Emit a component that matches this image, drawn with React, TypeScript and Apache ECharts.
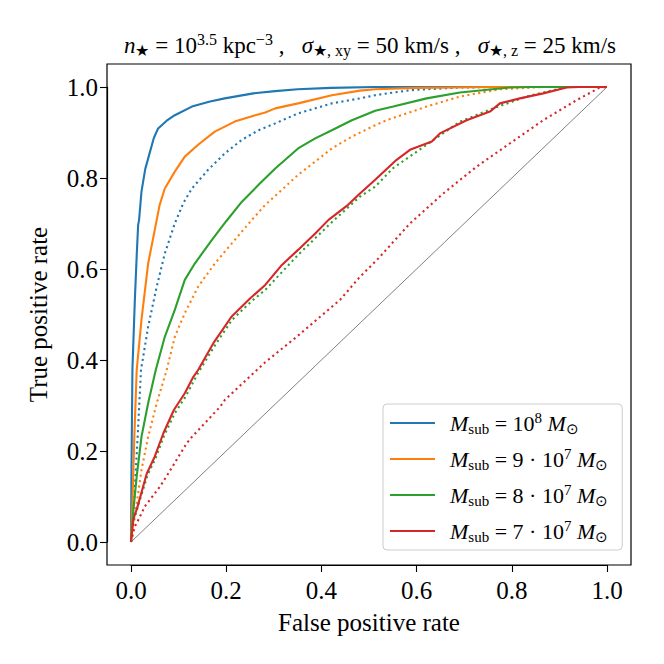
import React, { useEffect, useRef } from "react";
import * as echarts from "echarts";

// ROC curves: [false positive rate, true positive rate]
const roc1e8Solid: [number, number][] = [
  [0, 0], [0.001, 0.16], [0.003, 0.38], [0.008, 0.53], [0.012, 0.63], [0.015, 0.697], [0.017, 0.708],
  [0.022, 0.77], [0.03, 0.82], [0.04, 0.858], [0.048, 0.888], [0.057, 0.909], [0.075, 0.926],
  [0.092, 0.938], [0.128, 0.957], [0.166, 0.968], [0.197, 0.975], [0.257, 0.986], [0.303, 0.991],
  [0.35, 0.995], [0.42, 0.998], [0.513, 1.0], [0.7, 1.0], [1, 1],
];
const roc1e8Dotted: [number, number][] = [
  [0, 0], [0.007, 0.1], [0.014, 0.231], [0.021, 0.378], [0.036, 0.473], [0.054, 0.561], [0.071, 0.634],
  [0.092, 0.7], [0.11, 0.745], [0.128, 0.777], [0.162, 0.818], [0.197, 0.854], [0.233, 0.884],
  [0.268, 0.905], [0.303, 0.92], [0.351, 0.942], [0.422, 0.964], [0.481, 0.975], [0.513, 0.982],
  [0.586, 0.993], [0.691, 0.999], [0.8, 1.0], [1, 1],
];
const roc9e7Solid: [number, number][] = [
  [0, 0], [0.003, 0.086], [0.007, 0.231], [0.012, 0.378], [0.022, 0.488], [0.036, 0.612], [0.052, 0.697],
  [0.06, 0.74], [0.071, 0.777], [0.092, 0.814], [0.113, 0.847], [0.141, 0.873], [0.176, 0.902],
  [0.218, 0.924], [0.261, 0.938], [0.282, 0.944], [0.303, 0.953], [0.351, 0.964], [0.422, 0.982],
  [0.481, 0.992], [0.513, 0.995], [0.6, 0.998], [0.76, 1.0], [1, 1],
];
const roc9e7Dotted: [number, number][] = [
  [0, 0], [0.012, 0.085], [0.022, 0.158], [0.036, 0.231], [0.054, 0.305], [0.075, 0.378], [0.092, 0.451],
  [0.113, 0.503], [0.141, 0.561], [0.176, 0.612], [0.218, 0.664], [0.254, 0.708], [0.282, 0.741],
  [0.317, 0.774], [0.351, 0.807], [0.387, 0.836], [0.422, 0.865], [0.464, 0.891], [0.513, 0.916],
  [0.537, 0.927], [0.621, 0.957], [0.691, 0.979], [0.775, 0.995], [0.866, 1.0], [1, 1],
];
const roc8e7Solid: [number, number][] = [
  [0, 0], [0.005, 0.07], [0.012, 0.144], [0.022, 0.231], [0.036, 0.305], [0.052, 0.378], [0.071, 0.451],
  [0.092, 0.51], [0.113, 0.576], [0.134, 0.612], [0.17, 0.664], [0.2, 0.705], [0.233, 0.748],
  [0.268, 0.785], [0.303, 0.821], [0.351, 0.865], [0.387, 0.887], [0.422, 0.905], [0.464, 0.927],
  [0.513, 0.948], [0.551, 0.957], [0.621, 0.975], [0.691, 0.988], [0.796, 0.999], [0.84, 1.0], [1, 1],
];
const roc8e7Dotted: [number, number][] = [
  [0, 0], [0.005, 0.045], [0.015, 0.08], [0.035, 0.148], [0.05, 0.18], [0.07, 0.235], [0.092, 0.283],
  [0.115, 0.32], [0.14, 0.37], [0.175, 0.43], [0.212, 0.488], [0.254, 0.53], [0.282, 0.554],
  [0.351, 0.631], [0.422, 0.703], [0.481, 0.759], [0.513, 0.781], [0.551, 0.822], [0.621, 0.873],
  [0.691, 0.924], [0.761, 0.953], [0.831, 0.979], [0.915, 1.0], [1, 1],
];
const roc7e7Solid: [number, number][] = [
  [0, 0], [0.005, 0.05], [0.013, 0.075], [0.033, 0.15], [0.05, 0.188], [0.068, 0.239], [0.09, 0.29],
  [0.113, 0.327], [0.131, 0.363], [0.141, 0.378], [0.173, 0.437], [0.211, 0.495], [0.25, 0.535],
  [0.282, 0.565], [0.317, 0.609], [0.351, 0.642], [0.387, 0.678], [0.415, 0.708], [0.456, 0.741],
  [0.481, 0.766], [0.513, 0.796], [0.558, 0.84], [0.586, 0.862], [0.632, 0.88], [0.649, 0.898],
  [0.705, 0.927], [0.754, 0.946], [0.775, 0.964], [0.817, 0.975], [0.866, 0.986], [0.915, 0.999],
  [0.94, 1.0], [1, 1],
];
const roc7e7Dotted: [number, number][] = [
  [0, 0], [0.008, 0.034], [0.012, 0.041], [0.029, 0.078], [0.061, 0.122], [0.075, 0.145], [0.117, 0.217],
  [0.128, 0.231], [0.187, 0.297], [0.197, 0.312], [0.257, 0.371], [0.282, 0.395], [0.348, 0.451],
  [0.422, 0.517], [0.439, 0.532], [0.481, 0.583], [0.513, 0.616], [0.523, 0.627], [0.586, 0.7],
  [0.656, 0.766], [0.726, 0.825], [0.796, 0.876], [0.866, 0.927], [0.936, 0.971], [0.985, 0.999], [1, 1],
];
const chanceLine: [number, number][] = [[0, 0], [1, 1]];

const massNames = ["M_sub = 10^8 M_sun", "M_sub = 9·10^7 M_sun", "M_sub = 8·10^7 M_sun", "M_sub = 7·10^7 M_sun"];
const massLabels = [
  "{it|M}{sub|sub}{n| = 10}{sup|8}{it| M}{sub|⊙}",
  "{it|M}{sub|sub}{n| = 9 · 10}{sup|7}{it| M}{sub|⊙}",
  "{it|M}{sub|sub}{n| = 8 · 10}{sup|7}{it| M}{sub|⊙}",
  "{it|M}{sub|sub}{n| = 7 · 10}{sup|7}{it| M}{sub|⊙}",
];
const colors = ["#1f77b4", "#ff7f0e", "#2ca02c", "#d62728"];
const titleText =
  "{it|n}{sub|★}{n| = 10}{sup|3.5}{n| kpc}{sup|−3}{n| ,   }{it|σ}{sub|★, xy}{n| = 50 km/s ,   }{it|σ}{sub|★, z}{n| = 25 km/s}";

const FONT = "Liberation Serif";

export default function App() {
  const ref = useRef<HTMLDivElement>(null);
  useEffect(() => {
    if (!ref.current) return;
    const chart = echarts.init(ref.current, undefined, { renderer: "svg" });
    const solids = [roc1e8Solid, roc9e7Solid, roc8e7Solid, roc7e7Solid];
    const dotteds = [roc1e8Dotted, roc9e7Dotted, roc8e7Dotted, roc7e7Dotted];
    const series: any[] = [
      {
        type: "line",
        name: "chance",
        data: chanceLine,
        symbol: "none",
        clip: false,
        lineStyle: { color: "#808080", width: 1 },
        silent: true,
      },
    ];
    for (let i = 0; i < 4; i++) {
      series.push({
        type: "line",
        name: massNames[i],
        data: solids[i],
        symbol: "none",
        clip: false,
        color: colors[i],
        lineStyle: { color: colors[i], width: 2.1 },
      });
      series.push({
        type: "line",
        name: massNames[i] + " (dotted)",
        data: dotteds[i],
        symbol: "none",
        clip: false,
        color: colors[i],
        lineStyle: { color: colors[i], width: 2.1, type: [2.1, 3.4], cap: "butt" },
      });
    }
    const richLegend = {
      n: { fontFamily: FONT, fontSize: 22, lineHeight: 26, color: "#000" },
      it: { fontFamily: FONT, fontSize: 22, fontStyle: "italic", lineHeight: 26, color: "#000" },
      sub: { fontFamily: FONT, fontSize: 15, verticalAlign: "bottom", color: "#000" },
      sup: { fontFamily: FONT, fontSize: 15, verticalAlign: "top", color: "#000" },
    };
    const richTitle = {
      n: { fontFamily: FONT, fontSize: 23, lineHeight: 27, fill: "#000", color: "#000" },
      it: { fontFamily: FONT, fontSize: 23, fontStyle: "italic", lineHeight: 27, fill: "#000", color: "#000" },
      sub: { fontFamily: FONT, fontSize: 16, verticalAlign: "bottom", fill: "#000", color: "#000" },
      sup: { fontFamily: FONT, fontSize: 16, verticalAlign: "top", fill: "#000", color: "#000" },
    };
    const axisCommon = {
      type: "value",
      min: 0,
      max: 1,
      interval: 0.2,
      nameLocation: "middle",
      nameTextStyle: { fontFamily: FONT, fontSize: 25, color: "#000" },
      axisLine: { show: true, onZero: false, lineStyle: { color: "#000", width: 1.2 } },
      splitLine: { show: false },
      axisTick: { show: true, inside: false, length: 7, lineStyle: { color: "#000", width: 1.1 } },
    };
    chart.setOption({
      animation: false,
      backgroundColor: "#fff",
      textStyle: { fontFamily: FONT },
      grid: {
        left: 131,
        top: 87,
        right: 57,
        bottom: 122,
        show: false,
      },
      xAxis: {
        ...axisCommon,
        offset: 23,
        name: "False positive rate",
        nameGap: 45,
        axisLabel: {
          formatter: (v: number) => v.toFixed(1),
          fontFamily: FONT,
          fontSize: 25,
          color: "#000",
          margin: 13,
        },
      },
      yAxis: {
        ...axisCommon,
        offset: 24,
        name: "True positive rate",
        nameGap: 56,
        axisLabel: {
          formatter: (v: number) => v.toFixed(1),
          fontFamily: FONT,
          fontSize: 25,
          color: "#000",
          margin: 9,
        },
      },
      legend: {
        data: massNames,
        orient: "vertical",
        left: 383,
        top: 404,
        icon: "rect",
        itemWidth: 45,
        itemHeight: 2.2,
        itemGap: 10,
        padding: [6, 14, 6, 7],
        backgroundColor: "rgba(255,255,255,0.8)",
        borderColor: "#cccccc",
        borderWidth: 1,
        borderRadius: 4,
        z: 10,
        formatter: (name: string) => massLabels[massNames.indexOf(name)],
        textStyle: { fontFamily: FONT, fontSize: 22, color: "#000", padding: [0, 0, 0, 10], rich: richLegend },
      },
      graphic: [
        {
          type: "rect",
          silent: true,
          z: 5,
          shape: { x: 107, y: 64, width: 524, height: 501 },
          style: { fill: "none", stroke: "#000", lineWidth: 1.2 },
        },
        {
          type: "text",
          x: 370,
          y: 45,
          style: {
            text: titleText,
            align: "center",
            verticalAlign: "middle",
            textAlign: "center",
            textVerticalAlign: "middle",
            fontFamily: FONT,
            fontSize: 23,
            fill: "#000",
            rich: richTitle,
          },
        },
      ],
      series,
    });
    return () => chart.dispose();
  }, []);
  return <div ref={ref} style={{ position: "absolute", left: 0, top: 0, width: 664, height: 664 }} />;
}
